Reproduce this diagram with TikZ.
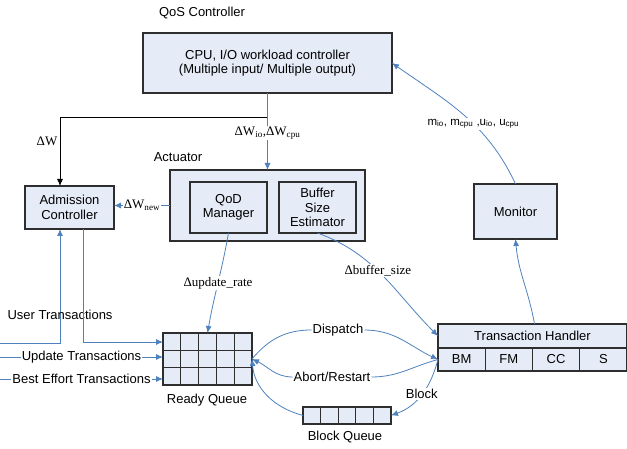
\documentclass[tikz,border=0pt]{standalone}
\usepackage{fontspec}
\setmainfont{Liberation Sans}
\newfontfamily\timesfont{Liberation Serif}
\usetikzlibrary{arrows.meta, positioning}

\definecolor{boxfill}{HTML}{E6ECF7}
\definecolor{flowblue}{HTML}{4F81BD}
\definecolor{boxedge}{HTML}{2E2E2E}

\begin{document}
\begin{tikzpicture}[x=1pt, y=1pt,
  every node/.style={font=\fontsize{13}{14.5}\selectfont},
  box/.style={draw=boxedge, line width=1.1pt, fill=boxfill, align=center, inner sep=0pt, outer sep=0pt},
  slot/.style={draw=boxedge, line width=1.1pt},
  link/.style={draw=flowblue, line width=0.8pt},
  flow/.style={link, -{Latex[length=7pt,width=6pt]}},
  sig/.style={font=\timesfont\fontsize{13}{14.5}\selectfont, fill=white, inner sep=1pt},
  lbl/.style={fill=white, inner sep=1pt}]
\useasboundingbox (0,0) rectangle (627,449);

% QoS controller
\node (qoslbl) at (202,436) {QoS Controller};
\node[box, minimum width=249, minimum height=60] (ctrl) at (267.5,386)
  {CPU, I/O workload controller\\(Multiple input/ Multiple output)};

% Actuator and its two parts
\node (actlbl) at (178,292) {Actuator};
\node[box, line width=1.4pt, minimum width=195, minimum height=71] (act) at (267.5,243.5) {};
\node[box, minimum width=77, minimum height=51] (qod) at (228.5,241.5) {QoD\\Manager};
\node[box, minimum width=77, minimum height=51] (bse) at (317.5,241.5) {Buffer\\Size\\Estimator};

% Admission controller and monitor
\node[box, minimum width=89, minimum height=43] (adm) at (69.5,241.5) {Admission\\Controller};
\node[box, minimum width=83, minimum height=55] (mon) at (515.5,237.5) {Monitor};

% Ready queue, 3 rows of 5 slots
\node[box, minimum width=89, minimum height=52] (rq) at (207.5,90) {};
\foreach \i in {1,...,4}
  \draw[slot] ([xshift=\i*17.8pt]rq.south west) -- ([xshift=\i*17.8pt]rq.north west);
\foreach \j in {1,2}
  \draw[slot] ([yshift=\j*17.33pt]rq.south west) -- ([yshift=\j*17.33pt]rq.south east);
\node (rqlbl) at (207,49) {Ready Queue};

% Block queue
\node[box, minimum width=88, minimum height=17] (bq) at (347,33.5) {};
\foreach \i in {1,...,4}
  \draw[slot] ([xshift=\i*17.6pt]bq.south west) -- ([xshift=\i*17.6pt]bq.north west);
\node (bqlbl) at (345,12) {Block Queue};

% Transaction handler
\node[box, minimum width=189, minimum height=24] (th) at (532.5,113) {Transaction Handler};
\node[box, minimum width=47.25, minimum height=23, anchor=north west] (bm) at (th.south west) {BM};
\node[box, minimum width=47.25, minimum height=23, right=0pt of bm] (fm) {FM};
\node[box, minimum width=47.25, minimum height=23, right=0pt of fm] (cc) {CC};
\node[box, minimum width=47.25, minimum height=23, right=0pt of cc] (sch) {S};

% workload changes from the controller
\coordinate (split) at (267.5,332);
\draw[link] (ctrl.south) -- (split);
\draw[line width=0.8pt, -{Latex[length=7pt,width=6pt]}] (split) -| ([xshift=-9.5pt]adm.north);
\node (dw) at (47,308) {\timesfont ΔW};
\draw[flow] (split) -- node[sig, pos=0.3] (dwio) {ΔW\textsubscript{io},ΔW\textsubscript{cpu}} (act.north);
\draw[flow] (act.west) -- node[sig] (dwnew) {ΔW\textsubscript{new}} (act.west -| adm.east);

% update rate and buffer size
\draw[flow] (qod.south) to[out=-100,in=80] node[sig] (dupd) {Δupdate\_rate} (rq.north);
\draw[flow] (bse.south) to[out=-20,in=135] node[sig, pos=0.45] (dbuf) {Δbuffer\_size} (th.west);

% measurements back to the controller
\draw[flow] (mon.north) to[out=115,in=-35]
  node[lbl, font=\fontsize{11.5}{12}\selectfont, pos=0.42] (meas)
  {m\textsubscript{io}, m\textsubscript{cpu} ,u\textsubscript{io}, u\textsubscript{cpu}} (ctrl.east);
\draw[flow] ([xshift=2pt]th.north) to[out=100,in=-85] (mon.south);

% incoming transactions
\coordinate (usersrc) at (0,105.5);
\coordinate (updsrc) at (0,92);
\coordinate (besrc) at (0,70);
\draw[flow] (usersrc) -| ([xshift=-9.5pt]adm.south);
\node (userlbl) at (60,134) {User Transactions};
\draw[flow] ([xshift=13.5pt]adm.south) |- ([yshift=17pt]rq.west);
\draw[flow] (updsrc) -- node[lbl] (updlbl) {Update Transactions} (updsrc -| rq.west);
\draw[flow] (besrc) -- node[lbl] (belbl) {Best Effort Transactions} (besrc -| rq.west);

% dispatch, abort and block
\node[lbl] (disp) at (338,119) {Dispatch};
\draw[link] (rq.east) to[out=50,in=180] (disp.west);
\draw[flow] (disp.east) to[out=0,in=155] (bm.west);
\node[lbl] (abort) at (332,72) {Abort/Restart};
\draw[link] (bm.west) to[out=195,in=0] (abort.east);
\draw[flow] (abort.west) to[out=180,in=-25] (rq.east);
\draw[flow] (bm.west) to[out=-105,in=20] node[lbl, pos=0.5] (blk) {Block} (bq.east);
\draw[flow] (bq.west) to[out=165,in=-85] (rq.east);
\end{tikzpicture}
\end{document}
